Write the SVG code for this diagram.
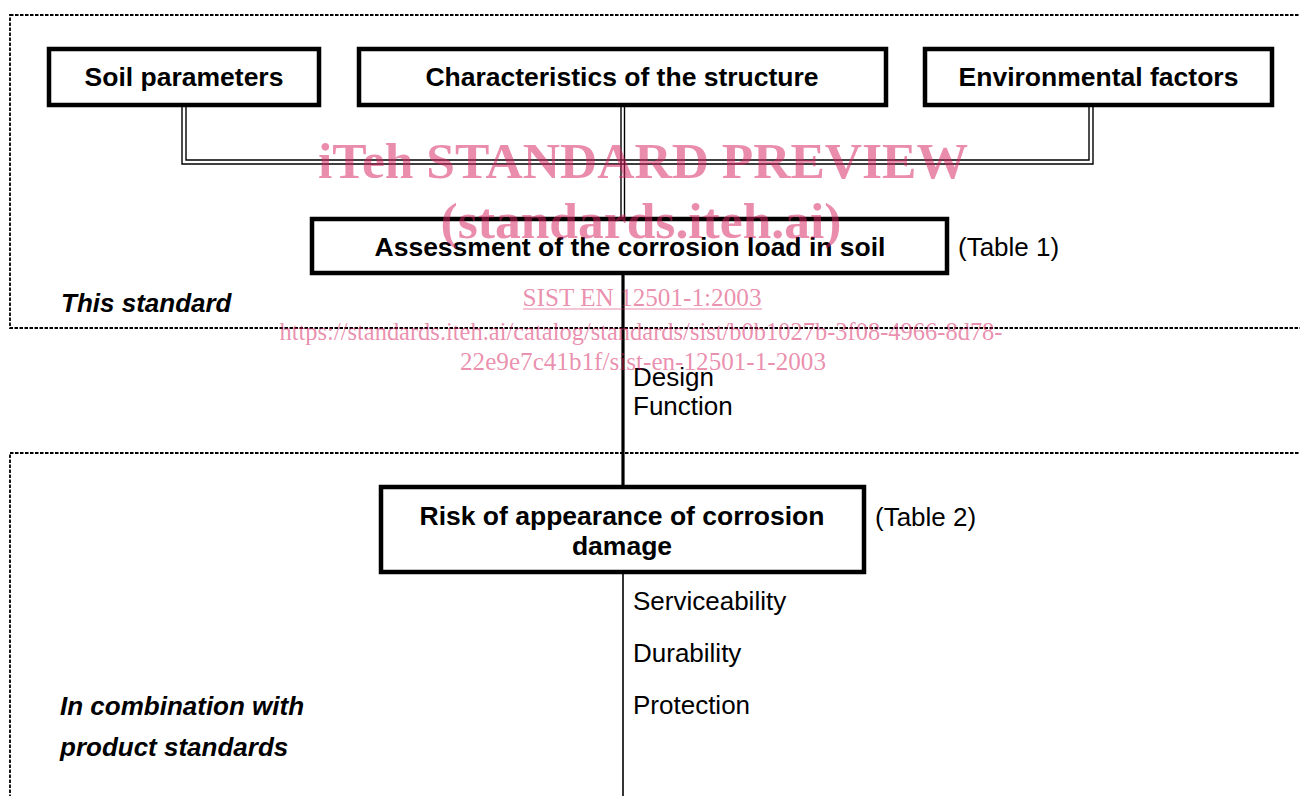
<svg xmlns="http://www.w3.org/2000/svg" width="1300" height="796" viewBox="0 0 1300 796">
<style>
.region{fill:none;stroke:#000;stroke-width:1.8;stroke-dasharray:3.5,1.5}
.box{fill:#fff;stroke:#000;stroke-width:4.5}
.bt{font-family:"Liberation Sans",Arial,sans-serif;font-weight:bold;font-size:26.5px;fill:#000;text-anchor:middle}
.lbl{font-family:"Liberation Sans",Arial,sans-serif;font-size:26px;fill:#000}
.side{font-family:"Liberation Sans",Arial,sans-serif;font-weight:bold;font-style:italic;font-size:26px;fill:#000}
.dbl{fill:none;stroke:#000;stroke-width:1.4}
.wm{font-family:"Liberation Serif","Times New Roman",serif;fill:#d6245f;fill-opacity:0.52;text-anchor:middle}
</style>
<rect width="1300" height="796" fill="#fff"/>
<g id="regions">
<rect id="region-this-standard" class="region" x="10" y="15" width="1310" height="313"/>
<rect id="region-product-standards" class="region" x="10" y="453" width="1310" height="360"/>
</g>
<g id="connectors">
<path class="dbl" d="M182,107 V164 H1093 V107"/>
<path class="dbl" d="M186,107 V160 H1089 V107"/>
<path class="dbl" d="M621,107 V219"/>
<path class="dbl" d="M624.5,107 V219"/>
<path d="M623,275 V487" stroke="#000" stroke-width="3.2" fill="none"/>
<path d="M623,572 V796" stroke="#000" stroke-width="1.6" fill="none"/>
</g>
<g id="soil-parameters">
<rect class="box" x="49" y="49" width="270" height="56"/>
<text class="bt" x="184" y="86">Soil parameters</text>
</g>
<g id="characteristics">
<rect class="box" x="359" y="49" width="527" height="56"/>
<text class="bt" x="622" y="86">Characteristics of the structure</text>
</g>
<g id="environmental-factors">
<rect class="box" x="925" y="49" width="347" height="56"/>
<text class="bt" x="1098.5" y="86">Environmental factors</text>
</g>
<g id="assessment">
<rect class="box" x="312" y="219" width="635" height="54"/>
<text class="bt" x="630" y="256">Assessment of the corrosion load in soil</text>
<text class="lbl" x="958" y="256">(Table 1)</text>
</g>
<g id="risk">
<rect class="box" x="381" y="487" width="483" height="85"/>
<text class="bt" x="622" y="525">Risk of appearance of corrosion</text>
<text class="bt" x="622" y="555">damage</text>
<text class="lbl" x="875" y="526">(Table 2)</text>
</g>
<g id="labels">
<text class="lbl" x="633" y="386">Design</text>
<text class="lbl" x="633" y="415">Function</text>
<text class="lbl" x="633" y="610">Serviceability</text>
<text class="lbl" x="633" y="662">Durability</text>
<text class="lbl" x="633" y="714">Protection</text>
<text class="side" x="61" y="312">This standard</text>
<text class="side" x="60" y="715">In combination with</text>
<text class="side" x="60" y="756">product standards</text>
</g>
<g id="watermark">
<text class="wm" x="643" y="178" font-size="51" font-weight="bold" textLength="650" lengthAdjust="spacingAndGlyphs">iTeh STANDARD PREVIEW</text>
<text class="wm" x="641" y="238" font-size="51" font-weight="bold" textLength="401" lengthAdjust="spacingAndGlyphs">(standards.iteh.ai)</text>
<text class="wm" x="642" y="306" font-size="25" textLength="239" lengthAdjust="spacingAndGlyphs">SIST EN 12501-1:2003</text>
<line x1="523" y1="309" x2="762" y2="309" stroke="#d6245f" stroke-opacity="0.52" stroke-width="1.2"/>
<text class="wm" x="641" y="340" font-size="25" textLength="723" lengthAdjust="spacingAndGlyphs">https://standards.iteh.ai/catalog/standards/sist/b0b1027b-3f08-4966-8d78-</text>
<text class="wm" x="643" y="370" font-size="25" textLength="366" lengthAdjust="spacingAndGlyphs">22e9e7c41b1f/sist-en-12501-1-2003</text>
</g>
</svg>
